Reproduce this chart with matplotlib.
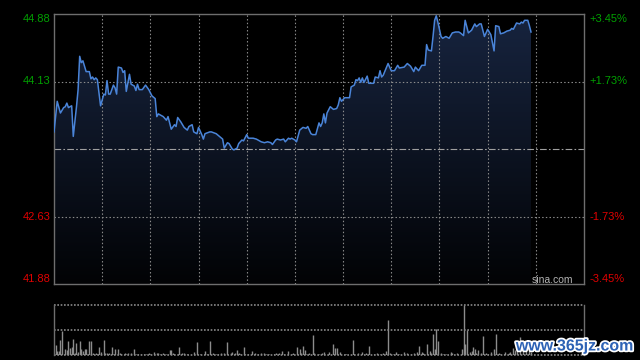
import matplotlib.pyplot as plt
import matplotlib.patheffects as pe
import numpy as np
from matplotlib.colors import LinearSegmentedColormap

plt.rcParams['font.family'] = ['Liberation Sans', 'DejaVu Sans']

# intraday price, minutes since 9:30 (lunch break removed)
minutes = [
    0, 2, 4, 6, 7, 8, 9, 11, 12, 14, 15, 16, 17, 18, 20,
    22, 23, 24, 25, 26, 27, 28, 29, 31, 32, 33, 34, 35, 37, 38,
    39, 40, 42, 43, 44, 45, 47, 48, 50, 51, 52, 53, 55, 57, 59,
    61, 63, 64, 65, 68, 70, 71, 73, 75, 76, 77, 79, 81, 83, 84,
    86, 87, 89, 90, 92, 93, 94, 97, 98, 101, 103, 105, 106, 108, 109,
    111, 112, 114, 115, 117, 118, 120, 121, 124, 126, 127, 129, 131, 133, 135,
    136, 138, 139, 141, 143, 144, 146, 147, 148, 150, 151, 153, 155, 157, 158,
    160, 161, 163, 165, 166, 167, 168, 169, 170, 172, 174, 176, 177, 178, 179,
    181, 184, 185, 187, 188, 189, 190, 191, 192, 193, 195, 196, 199, 200, 202,
    203, 204, 205, 208, 210, 212, 214, 215, 218, 220, 222, 224, 225, 227, 229,
    231, 232, 233, 235, 236, 237, 238, 239, 241, 242, 244, 246, 248, 250, 252,
    253, 255, 256, 258, 260, 262, 263, 265, 266, 268, 270, 271, 272, 274, 275,
    277, 278, 280, 282, 284, 285, 286, 288, 290, 291, 292, 293, 295, 296, 297,
]
prices = [
    43.57, 43.91, 43.78, 43.84, 43.85, 43.89, 43.84, 43.86, 43.52, 43.85, 44.04, 44.41, 44.34, 44.36, 44.24,
    44.24, 44.16, 44.18, 44.15, 44.17, 44.15, 44.00, 43.86, 43.99, 43.98, 44.14, 43.99, 43.99, 44.09, 44.06,
    43.99, 44.29, 44.28, 44.23, 44.25, 44.02, 44.21, 44.10, 44.08, 44.03, 44.10, 44.04, 44.04, 44.09, 44.04,
    43.97, 43.94, 43.74, 43.77, 43.74, 43.70, 43.74, 43.60, 43.65, 43.63, 43.73, 43.68, 43.62, 43.59, 43.63,
    43.65, 43.57, 43.55, 43.62, 43.54, 43.49, 43.55, 43.57, 43.57, 43.55, 43.52, 43.49, 43.39, 43.45, 43.44,
    43.38, 43.37, 43.39, 43.44, 43.48, 43.47, 43.54, 43.50, 43.50, 43.49, 43.48, 43.46, 43.45, 43.46, 43.45,
    43.43, 43.48, 43.49, 43.48, 43.49, 43.46, 43.50, 43.49, 43.50, 43.48, 43.46, 43.59, 43.62, 43.61, 43.63,
    43.55, 43.54, 43.54, 43.67, 43.63, 43.67, 43.77, 43.67, 43.78, 43.85, 43.82, 43.83, 43.87, 43.95, 43.91,
    43.95, 43.95, 44.07, 44.09, 44.15, 44.14, 44.17, 44.12, 44.17, 44.12, 44.19, 44.11, 44.11, 44.18, 44.17,
    44.25, 44.18, 44.20, 44.33, 44.25, 44.25, 44.31, 44.28, 44.29, 44.33, 44.30, 44.24, 44.29, 44.25, 44.31,
    44.31, 44.54, 44.48, 44.47, 44.63, 44.81, 44.86, 44.79, 44.63, 44.61, 44.63, 44.61, 44.67, 44.68, 44.68,
    44.67, 44.64, 44.81, 44.67, 44.70, 44.77, 44.74, 44.77, 44.77, 44.63, 44.71, 44.68, 44.65, 44.47, 44.75,
    44.74, 44.66, 44.67, 44.69, 44.70, 44.72, 44.71, 44.78, 44.77, 44.79, 44.78, 44.81, 44.81, 44.75, 44.68,
]

# volume bars (relative to the day's biggest bar)
vol_minutes = [
    1, 2, 3, 4, 5, 7, 8, 9, 10, 11, 12, 13, 14, 15, 16, 17, 18, 19, 20, 22,
    23, 24, 26, 27, 28, 29, 31, 32, 33, 34, 36, 37, 38, 40, 41, 42, 44, 45, 46, 48,
    50, 51, 52, 54, 56, 57, 59, 60, 62, 64, 65, 66, 68, 70, 72, 73, 74, 75, 77, 78,
    80, 81, 83, 87, 89, 91, 94, 95, 97, 99, 101, 102, 104, 106, 108, 110, 111, 113, 114, 115,
    116, 118, 119, 121, 123, 125, 127, 129, 131, 132, 134, 137, 138, 140, 142, 143, 146, 148, 149, 151,
    153, 154, 155, 156, 157, 159, 161, 162, 165, 167, 168, 171, 174, 175, 176, 178, 181, 182, 186, 187,
    189, 192, 194, 196, 199, 201, 203, 205, 207, 208, 209, 211, 213, 215, 218, 220, 222, 224, 226, 227,
    229, 230, 232, 234, 235, 236, 237, 238, 239, 241, 242, 244, 247, 248, 251, 254, 255, 256, 257, 259,
    260, 261, 262, 263, 264, 266, 267, 269, 270, 272, 274, 275, 277, 278, 280, 281, 283, 284, 286, 287,
    288, 290, 292, 294, 296, 297,
]
vol_values = [
    .20, .09, .08, .31, .48, .13, .10, .28, .15, .17, .33, .05, .25, .07, .28, .12, .09, .12, .13, .28,
    .28, .04, .05, .03, .17, .07, .30, .04, .05, .04, .17, .03, .12, .13, .04, .03, .04, .03, .04, .05,
    .13, .03, .03, .03, .02, .03, .04, .02, .07, .05, .05, .03, .04, .03, .10, .10, .05, .03, .03, .17,
    .04, .05, .02, .07, .27, .03, .09, .03, .28, .04, .03, .02, .04, .04, .27, .05, .07, .04, .10, .05,
    .03, .17, .03, .03, .08, .04, .02, .04, .05, .03, .03, .02, .04, .04, .08, .03, .09, .03, .04, .17,
    .12, .04, .19, .11, .03, .04, .40, .04, .03, .05, .07, .07, .23, .15, .15, .07, .03, .03, .30, .03,
    .05, .07, .05, .18, .03, .05, .03, .05, .09, .70, .05, .03, .07, .03, .07, .05, .03, .05, .07, .18,
    .07, .05, .23, .09, .05, .42, .13, .53, .28, .05, .03, .03, .07, .05, .05, .13, 1.00, .23, .51, .07,
    .09, .17, .13, .05, .11, .05, .38, .05, .03, .07, .13, .42, .05, .03, .03, .07, .05, .07, .15, .10,
    .13, .37, .10, .08, .12, .06,
]

prev_close = 43.38
price_top, price_bottom = 44.88, 41.88
price_ticks = [44.88, 44.13, 42.63, 41.88]
price_labels = ['44.88', '44.13', '42.63', '41.88']
pct_labels = ['+3.45%', '+1.73%', '-1.73%', '-3.45%']
session_len = 330

green = '#00a000'
red = '#e00000'
border = '#6e6e6e'
dots = '#8c8c8c'

fig = plt.figure(figsize=(6.4, 3.6), dpi=100, facecolor='black')
ax = fig.add_axes([54 / 640, 76 / 360, 530 / 640, 270 / 360])
vax = fig.add_axes([54 / 640, 5 / 360, 530 / 640, 50 / 360])

for a in (ax, vax):
    a.set_facecolor('black')
    a.set_xticks([])
    a.set_yticks([])
    a.set_xlim(0, session_len)

# gradient area under the price line
grad = np.linspace(1, 0, 256).reshape(-1, 1)
cmap = LinearSegmentedColormap.from_list('fill', ['#020305', '#17243f'])
im = ax.imshow(grad, cmap=cmap, extent=[0, session_len, price_bottom, price_top],
               aspect='auto', origin='upper', vmin=0, vmax=1, zorder=1)
poly = ax.fill_between(minutes, prices, price_bottom, facecolor='none', edgecolor='none')
im.set_clip_path(poly.get_paths()[0], transform=ax.transData)

# grid
for m in range(30, session_len, 30):
    ax.axvline(m, color=dots, lw=0.8, ls=(0, (1.3, 2)), zorder=2)
for p in price_ticks[1:3]:
    ax.axhline(p, color=dots, lw=0.8, ls=(0, (1.3, 2)), zorder=2)
ax.axhline(prev_close, color='#a0a0a0', lw=0.8, ls=(0, (6, 2, 1.5, 2)), zorder=2)

ax.plot(minutes, prices, color='#4a84d8', lw=1.1, zorder=3)

ax.set_xlim(0, session_len)
ax.set_ylim(price_bottom, price_top)
for s in ax.spines.values():
    s.set_color(border)
    s.set_linewidth(1)

# axis labels
ytr = ax.get_yaxis_transform()
for p, lab, pct in zip(price_ticks, price_labels, pct_labels):
    col = green if p > prev_close else red
    va = 'top' if p == price_top else ('bottom' if p == price_bottom else 'center')
    off = -0.003 if p == price_top else (0.004 if p == price_bottom else 0)
    ax.text(-0.006, p + off, lab, transform=ytr, ha='right', va=va, color=col, fontsize=8)
    ax.text(1.011, p + off, pct, transform=ytr, ha='left', va=va, color=col, fontsize=8)

fig.text(573 / 640, 1 - 283 / 360, 'sina.com', ha='right', va='baseline',
         color='#b4b4b4', fontsize=7.5)

# volume panel
vax.set_ylim(0, 1.0)
vax.vlines(vol_minutes, 0, vol_values, color='#8c8c8c', lw=1)
for lvl in (0, 0.5, 1.0):
    vax.axhline(lvl, color='#8a8a8a', lw=1.2, ls=(0, (1, 1)), clip_on=False)
for k in ('top', 'bottom'):
    vax.spines[k].set_visible(False)
for k in ('left', 'right'):
    vax.spines[k].set_color(border)
    vax.spines[k].set_linewidth(1)

fig.text(575 / 640, 1 - 346 / 360, 'www.365jz.com', ha='center', va='center',
         fontsize=11.5, fontweight='bold', color='#2d62b5',
         path_effects=[pe.withStroke(linewidth=2.5, foreground='white')])

fig.savefig('out.png', dpi=100, facecolor='black')
